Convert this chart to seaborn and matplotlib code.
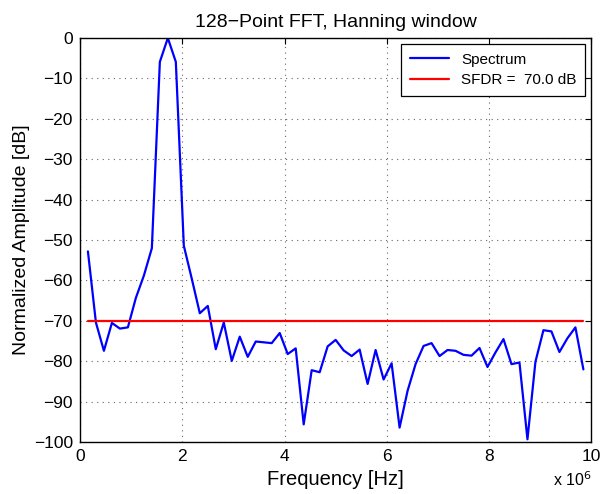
#!/usr/bin/env python3
# -*- coding: utf-8 -*-

"""
128-point FFT spectrum with SFDR level, MATLAB-like look.
"""

import numpy as np
import pandas as pd
import matplotlib
matplotlib.use("Agg")
import matplotlib.pyplot as plt
from matplotlib.ticker import FuncFormatter
import seaborn as sns

# sample rate and FFT size -> bin frequencies 1..63
fs = 20e6
n_fft = 128
bins = list(range(1, 64))

# normalized amplitude per bin [dB]
spectrum_db = [-52.8, -70.4, -77.4, -70.5, -71.9, -71.6, -64.3, -58.8, -52.0, -5.9,
               0.0, -5.9, -51.4, -59.6, -68.1, -66.3, -77.0, -70.4, -79.9, -73.9,
               -78.9, -75.1, -75.3, -75.5, -73.0, -78.2, -76.8, -95.6, -82.2, -82.7,
               -76.3, -74.7, -77.3, -78.7, -77.1, -85.6, -77.2, -84.5, -80.5, -96.4,
               -87.3, -80.7, -76.2, -75.5, -78.7, -77.2, -77.4, -78.4, -78.6, -76.7,
               -81.4, -77.8, -74.5, -80.7, -80.3, -99.3, -80.1, -72.3, -72.6, -77.7,
               -74.3, -71.6, -82.0]
sfdr_db = 70.0

xticks = [0, 2e6, 4e6, 6e6, 8e6, 10e6]
yticks = list(range(-100, 1, 10))


def main():
    sns.set_style("white")
    plt.rcParams['font.family'] = ['Liberation Sans', 'DejaVu Sans']
    plt.rcParams['text.color'] = 'black'
    plt.rcParams['axes.labelcolor'] = 'black'

    freq = np.array(bins) * fs / n_fft
    df = pd.DataFrame({"freq": freq, "amp": spectrum_db,
                       "sfdr": [-sfdr_db] * len(bins)})

    fig = plt.figure(figsize=(6.01, 4.94), dpi=100)
    ax = fig.add_axes([0.133, 0.105, 0.851, 0.818])

    sns.lineplot(data=df, x="freq", y="amp", ax=ax, color="#0000ff", lw=1.6,
                 label="Spectrum")
    sns.lineplot(data=df, x="freq", y="sfdr", ax=ax, color="#ff0000", lw=1.6,
                 label="SFDR =  %.1f dB" % sfdr_db)

    ax.set_xlim(0, 10e6)
    ax.set_ylim(-100, 0)
    ax.set_xticks(xticks)
    ax.set_yticks(yticks)
    ax.xaxis.set_major_formatter(FuncFormatter(lambda v, p: "%g" % (v / 1e6)))

    ax.grid(True, linestyle=(0, (1, 4)), color="#666666", lw=0.8)
    ax.tick_params(direction="in", top=True, right=True, length=4, width=0.8,
                   labelsize=12.5, colors="black", pad=5)
    for s in ax.spines.values():
        s.set_visible(True)
        s.set_color("black")
        s.set_linewidth(1.0)

    ax.set_title("128\u2212Point FFT, Hanning window", fontsize=14, pad=8,
                 color="black")
    ax.set_xlabel("Frequency [Hz]", fontsize=14.5, labelpad=4)
    ax.set_ylabel("Normalized Amplitude [dB]", fontsize=14, labelpad=3)
    ax.text(1.0, -0.07, r"x 10$^{6}$", transform=ax.transAxes, ha="right",
            va="top", fontsize=11.5)

    leg = ax.legend(loc="upper right", fontsize=11, frameon=True, fancybox=False,
                    edgecolor="black", framealpha=1, borderaxespad=0.4,
                    handlelength=2.6, handletextpad=0.8, borderpad=0.55,
                    labelspacing=0.45)
    leg.get_frame().set_linewidth(0.9)
    for t in leg.get_texts():
        t.set_color("black")

    fig.savefig("out.png", dpi=100)


if __name__ == "__main__":
    main()
